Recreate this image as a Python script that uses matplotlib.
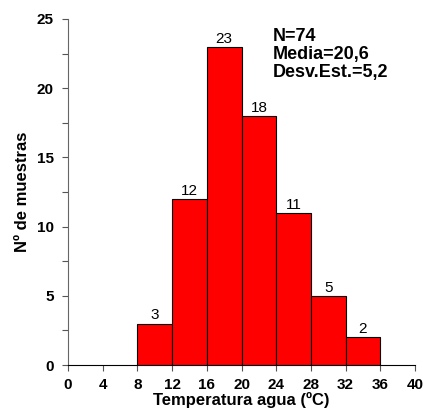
import matplotlib
matplotlib.use("Agg")
import matplotlib.pyplot as plt
import numpy as np
from matplotlib.ticker import MultipleLocator

plt.rcParams['font.family'] = ['Liberation Sans', 'DejaVu Sans']

# Data
bin_edges = [8, 12, 16, 20, 24, 28, 32, 36]
counts = [3, 12, 23, 18, 11, 5, 2]
stats_text = "N=74\nMedia=20,6\nDesv.Est.=5,2"

fig = plt.figure(figsize=(4.23, 4.12), dpi=100)
ax = fig.add_axes([0.161, 0.114, 0.82, 0.84])

lefts = np.array(bin_edges[:-1])
widths = np.diff(bin_edges)
ax.bar(lefts, counts, width=widths, align='edge', color='#ff0000',
       edgecolor='black', linewidth=0.8)

for x, w, c in zip(lefts, widths, counts):
    ax.text(x + w / 2, c + 0.08, str(c), ha='center', va='bottom', fontsize=11)

ax.set_xlim(0, 40)
ax.set_ylim(0, 25)
ax.set_xticks(np.arange(0, 41, 4))
ax.yaxis.set_major_locator(MultipleLocator(5))
ax.yaxis.set_minor_locator(MultipleLocator(2.5))

for lab in ax.get_xticklabels() + ax.get_yticklabels():
    lab.set_fontweight('bold')
ax.tick_params(axis='both', labelsize=11, length=4.5, width=0.8, color='#555555', pad=6)
ax.tick_params(axis='x', pad=5)
ax.tick_params(axis='y', which='minor', length=4.5, width=0.8, color='#555555')

ax.spines['top'].set_visible(False)
ax.spines['right'].set_visible(False)
ax.spines['left'].set_color('#666666')
ax.spines['bottom'].set_color('black')

ax.set_xlabel("Temperatura agua (ºC)", fontsize=12, fontweight='bold', labelpad=0)
ax.set_ylabel("Nº de muestras", fontsize=12, fontweight='bold', labelpad=5)

ax.text(0.59, 0.975, stats_text, transform=ax.transAxes, ha='left', va='top',
        fontsize=13, fontweight='bold', linespacing=1.1)

fig.savefig("out.png", dpi=100)
